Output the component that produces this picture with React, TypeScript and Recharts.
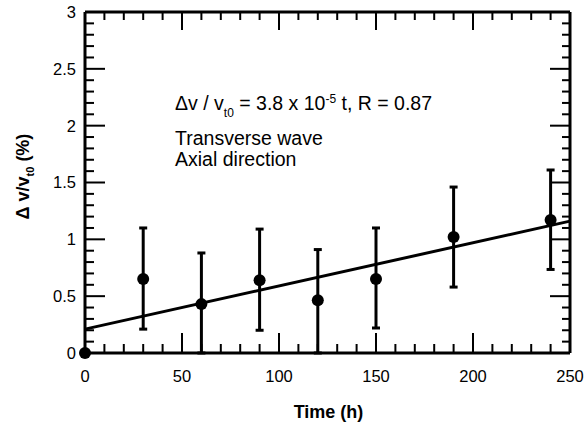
import React from 'react';
import {
  ComposedChart,
  Scatter,
  XAxis,
  YAxis,
  ErrorBar,
  ReferenceLine,
  ReferenceDot,
  Label,
} from 'recharts';

// ---- data ----
const times = [0, 30, 60, 90, 120, 150, 190, 240];
const dvValues = [0, 0.65, 0.43, 0.64, 0.465, 0.65, 1.02, 1.17];
const errLow = [0, 0.44, 0.43, 0.44, 0.465, 0.43, 0.44, 0.435];
const errHigh = [0, 0.45, 0.45, 0.45, 0.445, 0.45, 0.44, 0.44];

const fitStart = { t: 0, v: 0.21 };
const fitEnd = { t: 250, v: 1.16 };

const xTicks = [0, 10, 20, 30, 40, 50, 60, 70, 80, 90, 100, 110, 120, 130, 140, 150, 160, 170, 180, 190, 200, 210, 220, 230, 240, 250];
const xMajor = [0, 50, 100, 150, 200, 250];
const yTicks = [0, 0.1, 0.2, 0.3, 0.4, 0.5, 0.6, 0.7, 0.8, 0.9, 1, 1.1, 1.2, 1.3, 1.4, 1.5, 1.6, 1.7, 1.8, 1.9, 2, 2.1, 2.2, 2.3, 2.4, 2.5, 2.6, 2.7, 2.8, 2.9, 3];
const yMajor = [0, 0.5, 1, 1.5, 2, 2.5, 3];

const annotPos = { t: 46.4, v: 2.14 };

const data = times.map((t, i) => ({
  t,
  v: dvValues[i],
  err: [errLow[i], errHigh[i]],
}));

const FONT = '"Liberation Sans", Arial, Helvetica, sans-serif';
const MAJOR_LEN = 20;
const MINOR_LEN = 9;

const isMajorX = (v: number) => xMajor.some((m) => Math.abs(m - v) < 1e-6);
const isMajorY = (v: number) => yMajor.some((m) => Math.abs(m - v) < 1e-6);

const BottomTick = (props: any) => {
  const { x, y, payload } = props;
  const v = payload.value;
  const major = isMajorX(v);
  return (
    <g>
      <line x1={x} y1={y} x2={x} y2={y - (major ? MAJOR_LEN : MINOR_LEN)} stroke="#000" strokeWidth={2} />
      {major && (
        <text x={x} y={y + 17} dy="0.72em" textAnchor="middle" fontFamily={FONT} fontSize={16.5} fill="#000">
          {v}
        </text>
      )}
    </g>
  );
};

const TopTick = (props: any) => {
  const { x, y, payload } = props;
  const major = isMajorX(payload.value);
  return <line x1={x} y1={y} x2={x} y2={y + (major ? MAJOR_LEN - 2 : MINOR_LEN - 1)} stroke="#000" strokeWidth={2} />;
};

const LeftTick = (props: any) => {
  const { x, y, payload } = props;
  const v = payload.value;
  const major = isMajorY(v);
  return (
    <g>
      <line x1={x} y1={y} x2={x + (major ? MAJOR_LEN : MINOR_LEN)} y2={y} stroke="#000" strokeWidth={2} />
      {major && (
        <text x={x - 9} y={y} dy="0.36em" textAnchor="end" fontFamily={FONT} fontSize={16.5} fill="#000">
          {v}
        </text>
      )}
    </g>
  );
};

const RightTick = (props: any) => {
  const { x, y, payload } = props;
  const major = isMajorY(payload.value);
  return <line x1={x} y1={y} x2={x - (major ? MAJOR_LEN : MINOR_LEN - 1)} y2={y} stroke="#000" strokeWidth={2} />;
};

const YTitle = (props: any) => {
  const vb = props.viewBox || { x: 25, y: 12, width: 60, height: 341 };
  const x = vb.x + 4;
  const y = vb.y + vb.height / 2 - 6;
  return (
    <text
      x={x}
      y={y}
      transform={`rotate(-90, ${x}, ${y})`}
      textAnchor="middle"
      fontFamily={FONT}
      fontWeight="bold"
      fontSize={18}
      fill="#000"
    >
      Δ v/v
      <tspan dy={5} fontSize={11}>t0</tspan>
      <tspan dy={-5}> (%)</tspan>
    </text>
  );
};

const XTitle = (props: any) => {
  const vb = props.viewBox || { x: 85, y: 353, width: 485, height: 50 };
  const x = vb.x + vb.width / 2 + 1;
  const y = vb.y + 65;
  return (
    <text x={x} y={y} textAnchor="middle" fontFamily={FONT} fontWeight="bold" fontSize={18} fill="#000">
      Time (h)
    </text>
  );
};

const Annotation = (props: any) => {
  const { cx, cy } = props;
  if (cx == null || cy == null) return null;
  return (
    <g fontFamily={FONT} fill="#000">
      <text x={cx} y={cy} fontSize={19.5}>
        Δv / v
        <tspan dy={7} fontSize={12}>t0</tspan>
        <tspan dy={-7}> = 3.8 x 10</tspan>
        <tspan dy={-7} fontSize={12}>-5</tspan>
        <tspan dy={7}> t, R = 0.87</tspan>
      </text>
      <text x={cx} y={cy + 35} fontSize={19.5}>
        Transverse wave
      </text>
      <text x={cx} y={cy + 56} fontSize={19.5}>
        Axial direction
      </text>
    </g>
  );
};

const Dot = (props: any) => {
  const { cx, cy } = props;
  return <circle cx={cx} cy={cy} r={6} fill="#000" />;
};

const NoShape = () => <g />;

export default function App() {
  return (
    <div style={{ position: 'absolute', left: 0, top: 0, background: '#fff' }}>
      <ComposedChart width={584} height={427} data={data} margin={{ top: 11, right: 13, left: 25, bottom: 24 }}>
        <XAxis
          dataKey="t"
          type="number"
          domain={[0, 250]}
          ticks={xTicks}
          interval={0}
          tickSize={0}
          tickMargin={0}
          tickLine={false}
          tick={<BottomTick />}
          height={50}
          axisLine={{ stroke: '#000', strokeWidth: 3 }}
        >
          <Label content={<XTitle />} />
        </XAxis>
        <XAxis
          xAxisId="top"
          orientation="top"
          dataKey="t"
          type="number"
          domain={[0, 250]}
          ticks={xTicks}
          interval={0}
          tickSize={0}
          tickMargin={0}
          tickLine={false}
          tick={<TopTick />}
          height={1}
          axisLine={{ stroke: '#000', strokeWidth: 3 }}
        />
        <YAxis
          type="number"
          domain={[0, 3]}
          ticks={yTicks}
          interval={0}
          tickSize={0}
          tickMargin={0}
          tickLine={false}
          tick={<LeftTick />}
          width={60}
          axisLine={{ stroke: '#000', strokeWidth: 3 }}
        >
          <Label content={<YTitle />} />
        </YAxis>
        <YAxis
          yAxisId="right"
          orientation="right"
          type="number"
          domain={[0, 3]}
          ticks={yTicks}
          interval={0}
          tickSize={0}
          tickMargin={0}
          tickLine={false}
          tick={<RightTick />}
          width={1}
          axisLine={{ stroke: '#000', strokeWidth: 3 }}
        />
        <ReferenceLine
          segment={[
            { x: fitStart.t, y: fitStart.v },
            { x: fitEnd.t, y: fitEnd.v },
          ]}
          stroke="#000"
          strokeWidth={3}
        />
        <ReferenceDot x={annotPos.t} y={annotPos.v} r={0} shape={<Annotation />} />
        <Scatter
          xAxisId="top"
          yAxisId="right"
          dataKey="v"
          shape={<NoShape />}
          isAnimationActive={false}
          legendType="none"
        />
        <Scatter dataKey="v" fill="#000" shape={<Dot />} isAnimationActive={false}>
          <ErrorBar dataKey="err" direction="y" width={4} stroke="#000" strokeWidth={3} />
        </Scatter>
      </ComposedChart>
    </div>
  );
}
